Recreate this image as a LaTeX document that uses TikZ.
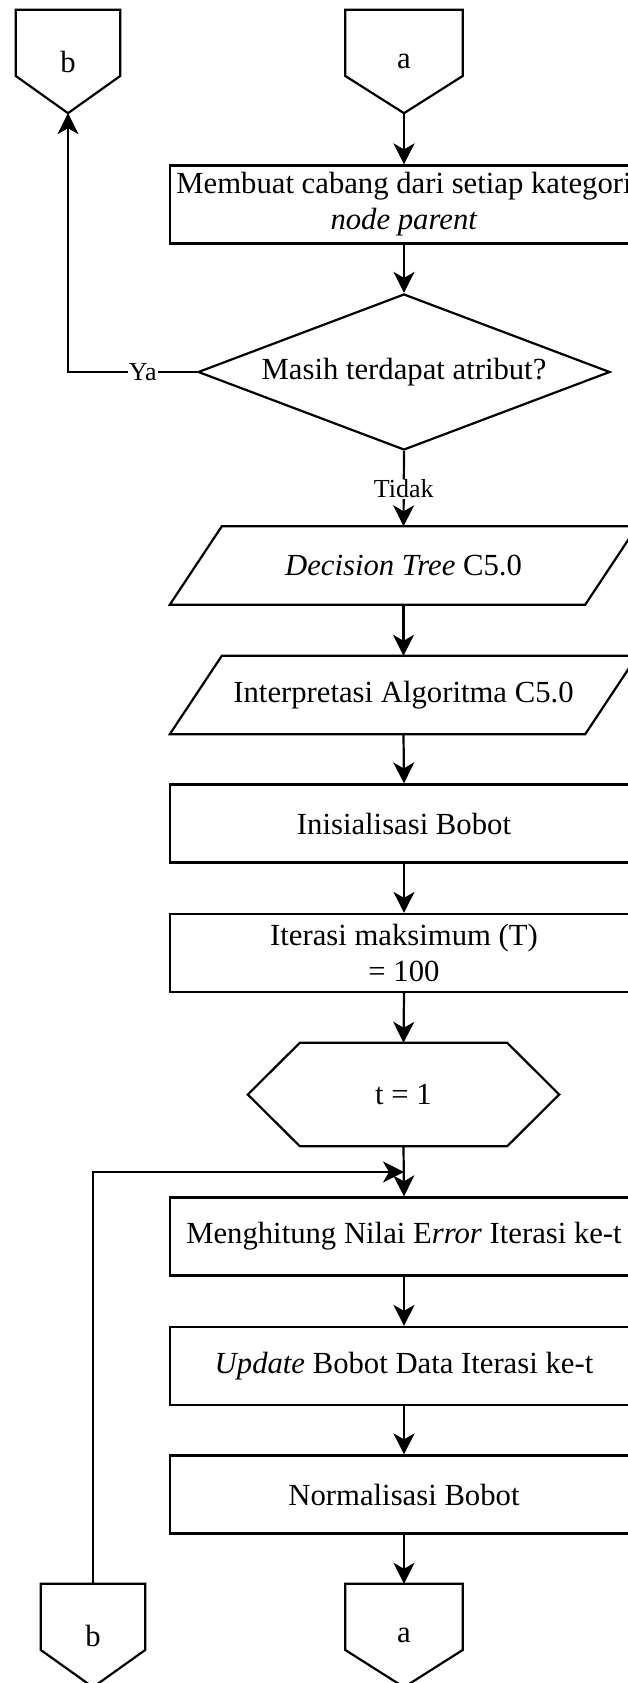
\documentclass[tikz,border=0pt]{standalone}
\usepackage{fontspec}
\setmainfont{Liberation Serif}
\usetikzlibrary{arrows.meta,calc,shapes.geometric}

\newcommand{\drawoffpage}[1]{%
  \draw[line width=2.2pt] (#1.north west) -- (#1.north east)
    -- ($(#1.north east)!0.64!(#1.south east)$) -- (#1.south)
    -- ($(#1.north west)!0.64!(#1.south west)$) -- cycle;}
\newcommand{\drawpara}[1]{%
  \draw[line width=2.2pt] (#1.south west) -- ($(#1.south east)+(-52,0)$)
    -- (#1.north east) -- ($(#1.north west)+(52,0)$) -- cycle;}
\newcommand{\drawhexa}[1]{%
  \draw[line width=2.2pt] (#1.west) -- ($(#1.north west)+(52,0)$)
    -- ($(#1.north east)+(-52,0)$) -- (#1.east)
    -- ($(#1.south east)+(-52,0)$) -- ($(#1.south west)+(52,0)$) -- cycle;}

\begin{document}
\begin{tikzpicture}[x=1pt,y=-1pt,
  every node/.style={font=\fontsize{30.7}{36}\selectfont,align=center,inner sep=0pt},
  process/.style={draw,line width=2.2pt,minimum width=468pt,minimum height=78pt},
  ghost/.style={minimum width=467pt,minimum height=78pt},
  decision/.style={draw,line width=2.2pt,diamond,aspect=2.64,minimum width=412pt,minimum height=156pt},
  lbl/.style={fill=white,font=\fontsize{26}{30}\selectfont,inner sep=1pt},
  flow/.style={line width=2.2pt,-{Stealth[length=21pt,width=21pt,inset=6pt]}}]
\useasboundingbox (0,0) rectangle (628,1683);
\clip (0,0) rectangle (628,1683);

\node[minimum width=104pt,minimum height=103pt] (bTop) at (68,61.5) {b};
\node[minimum width=117pt,minimum height=103pt] (aTop) at (404,61.5) {a};
\drawoffpage{bTop}
\drawoffpage{aTop}

\node[process] (branch) at (404,204.5) {Membuat cabang dari setiap kategori\\\textit{node parent}};
\node[decision] (attr) at (404,372) {Masih terdapat atribut?};
\node[ghost] (tree) at (403.5,565.5) {\textit{Decision Tree} C5.0};
\node[ghost] (interp) at (403.5,695) {Interpretasi Algoritma C5.0};
\drawpara{tree}
\drawpara{interp}
\node[process] (init) at (404,823.5) {Inisialisasi Bobot};
\node[process] (maxit) at (404,953) {Iterasi maksimum (T)\\= 100};
\node[minimum width=311pt,minimum height=103pt] (tinit) at (403.5,1094.5) {t = 1};
\drawhexa{tinit}
\coordinate (loopin) at (404,1172);
\node[process] (err) at (404,1236.5) {Menghitung Nilai E\textit{rror} Iterasi ke-t};
\node[process] (upd) at (404,1366) {\textit{Update} Bobot Data Iterasi ke-t};
\node[process] (norm) at (404,1494.5) {Normalisasi Bobot};

\node[minimum width=104pt,minimum height=103pt] (bBot) at (93,1635.5) {b};
\node[minimum width=117pt,minimum height=103pt] (aBot) at (404,1635.5) {a};
\drawoffpage{bBot}
\drawoffpage{aBot}

\draw[flow] (aTop.south) -- (branch.north);
\draw[flow] (branch.south) -- (attr.north);
\draw[flow] (attr.west) -| node[lbl,pos=0.21] {Ya} (bTop.south);
\draw[flow] (attr.south) -- node[lbl,pos=0.5] {Tidak} (tree.north);
\draw[flow] (tree.south) -- (interp.north);
\draw[flow] (interp.south) -- (init.north);
\draw[flow] (init.south) -- (maxit.north);
\draw[flow] (maxit.south) -- (tinit.north);
\draw[flow] (tinit.south) -- (err.north);
\draw[flow] (bBot.north) |- (loopin);
\draw[flow] (err.south) -- (upd.north);
\draw[flow] (upd.south) -- (norm.north);
\draw[flow] (norm.south) -- (aBot.north);
\end{tikzpicture}
\end{document}
